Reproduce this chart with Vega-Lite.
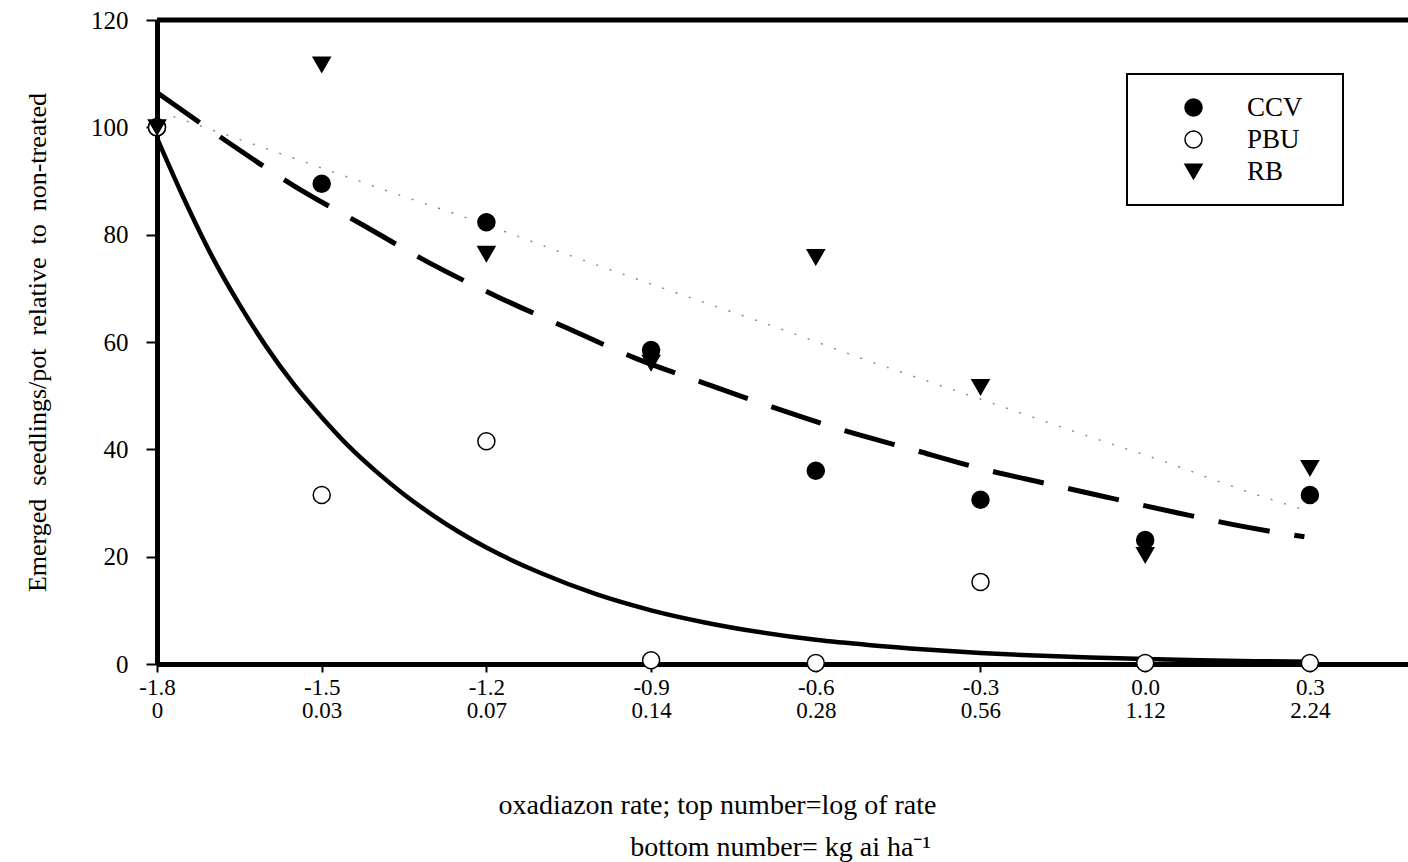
{
  "$schema": "https://vega.github.io/schema/vega-lite/v6.json",
  "width": 1251,
  "height": 644,
  "autosize": {"type": "none"},
  "padding": {"left": 157, "top": 20, "right": 0, "bottom": 198},
  "background": "white",
  "config": {
    "view": {"stroke": null},
    "font": "Liberation Serif",
    "axis": {"grid": false, "domainColor": "black", "tickColor": "black", "labelColor": "black", "titleColor": "black", "titleFontWeight": "normal", "labelFont": "Liberation Serif", "titleFont": "Liberation Serif"},
    "legend": {"strokeColor": "black", "strokeWidth": 2, "fillColor": "white"}
  },
  "datasets": {
    "points": [
      {"series": "CCV", "x": -1.8, "y": 100},
      {"series": "CCV", "x": -1.5, "y": 89.5},
      {"series": "CCV", "x": -1.2, "y": 82.3},
      {"series": "CCV", "x": -0.9, "y": 58.5},
      {"series": "CCV", "x": -0.6, "y": 36.0},
      {"series": "CCV", "x": -0.3, "y": 30.6},
      {"series": "CCV", "x": 0.0, "y": 23.1},
      {"series": "CCV", "x": 0.3, "y": 31.5},
      {"series": "PBU", "x": -1.8, "y": 100},
      {"series": "PBU", "x": -1.5, "y": 31.5},
      {"series": "PBU", "x": -1.2, "y": 41.5},
      {"series": "PBU", "x": -0.9, "y": 0.7},
      {"series": "PBU", "x": -0.6, "y": 0.2},
      {"series": "PBU", "x": -0.3, "y": 15.3},
      {"series": "PBU", "x": 0.0, "y": 0.2},
      {"series": "PBU", "x": 0.3, "y": 0.2},
      {"series": "RB", "x": -1.8, "y": 100},
      {"series": "RB", "x": -1.5, "y": 111.7},
      {"series": "RB", "x": -1.2, "y": 76.4},
      {"series": "RB", "x": -0.9, "y": 56.1},
      {"series": "RB", "x": -0.6, "y": 75.8},
      {"series": "RB", "x": -0.3, "y": 51.6},
      {"series": "RB", "x": 0.0, "y": 20.3},
      {"series": "RB", "x": 0.3, "y": 36.5}
    ],
    "curves": [
      {"fit": "RB", "x": -1.77, "y": 102.0},
      {"fit": "RB", "x": -1.516, "y": 93.0},
      {"fit": "RB", "x": -1.376, "y": 88.0},
      {"fit": "RB", "x": -1.235, "y": 83.1},
      {"fit": "RB", "x": -1.039, "y": 75.8},
      {"fit": "RB", "x": -0.844, "y": 68.8},
      {"fit": "RB", "x": -0.674, "y": 62.8},
      {"fit": "RB", "x": -0.507, "y": 56.6},
      {"fit": "RB", "x": -0.31, "y": 49.7},
      {"fit": "RB", "x": -0.082, "y": 41.7},
      {"fit": "RB", "x": 0.021, "y": 38.2},
      {"fit": "RB", "x": 0.204, "y": 31.5},
      {"fit": "RB", "x": 0.291, "y": 28.7},
      {"fit": "CCV", "x": -1.8, "y": 106.5},
      {"fit": "CCV", "x": -1.676, "y": 97.6},
      {"fit": "CCV", "x": -1.552, "y": 89.2},
      {"fit": "CCV", "x": -1.425, "y": 81.8},
      {"fit": "CCV", "x": -1.303, "y": 74.7},
      {"fit": "CCV", "x": -1.179, "y": 68.4},
      {"fit": "CCV", "x": -1.053, "y": 62.6},
      {"fit": "CCV", "x": -0.929, "y": 57.0},
      {"fit": "CCV", "x": -0.805, "y": 52.4},
      {"fit": "CCV", "x": -0.68, "y": 47.9},
      {"fit": "CCV", "x": -0.538, "y": 43.2},
      {"fit": "CCV", "x": -0.432, "y": 40.2},
      {"fit": "CCV", "x": -0.31, "y": 36.7},
      {"fit": "CCV", "x": -0.184, "y": 33.7},
      {"fit": "CCV", "x": -0.062, "y": 30.9},
      {"fit": "CCV", "x": 0.062, "y": 28.1},
      {"fit": "CCV", "x": 0.185, "y": 25.5},
      {"fit": "CCV", "x": 0.29, "y": 23.7},
      {"fit": "PBU", "x": -1.8, "y": 98},
      {"fit": "PBU", "x": -1.75, "y": 86.5},
      {"fit": "PBU", "x": -1.7, "y": 76},
      {"fit": "PBU", "x": -1.65, "y": 67},
      {"fit": "PBU", "x": -1.6, "y": 59},
      {"fit": "PBU", "x": -1.55, "y": 52},
      {"fit": "PBU", "x": -1.5, "y": 46},
      {"fit": "PBU", "x": -1.45, "y": 40.5},
      {"fit": "PBU", "x": -1.4, "y": 35.8},
      {"fit": "PBU", "x": -1.35, "y": 31.6},
      {"fit": "PBU", "x": -1.3, "y": 27.9},
      {"fit": "PBU", "x": -1.25, "y": 24.6},
      {"fit": "PBU", "x": -1.2, "y": 21.7},
      {"fit": "PBU", "x": -1.1, "y": 16.9},
      {"fit": "PBU", "x": -1.0, "y": 13.0},
      {"fit": "PBU", "x": -0.9, "y": 10.0},
      {"fit": "PBU", "x": -0.8, "y": 7.7},
      {"fit": "PBU", "x": -0.7, "y": 5.9},
      {"fit": "PBU", "x": -0.6, "y": 4.5},
      {"fit": "PBU", "x": -0.5, "y": 3.5},
      {"fit": "PBU", "x": -0.4, "y": 2.7},
      {"fit": "PBU", "x": -0.3, "y": 2.05},
      {"fit": "PBU", "x": -0.2, "y": 1.58},
      {"fit": "PBU", "x": -0.1, "y": 1.2},
      {"fit": "PBU", "x": 0.0, "y": 0.92},
      {"fit": "PBU", "x": 0.1, "y": 0.7},
      {"fit": "PBU", "x": 0.2, "y": 0.53},
      {"fit": "PBU", "x": 0.3, "y": 0.4}
    ]
  },
  "layer": [
    {
      "data": {"name": "curves"},
      "transform": [{"filter": "datum.fit === 'RB'"}],
      "mark": {"type": "line", "color": "#8c8c8c", "strokeWidth": 1.5, "strokeDash": [2, 12], "interpolate": "monotone"},
      "encoding": {
        "x": {
          "field": "x", "type": "quantitative",
          "scale": {"domain": [-1.8, 0.4787], "nice": false, "zero": false},
          "axis": {
            "values": [-1.8, -1.5, -1.2, -0.9, -0.6, -0.3, 0, 0.3],
            "labelExpr": "[datum.value < -1.65 ? '-1.8' : datum.value < -1.35 ? '-1.5' : datum.value < -1.05 ? '-1.2' : datum.value < -0.75 ? '-0.9' : datum.value < -0.45 ? '-0.6' : datum.value < -0.15 ? '-0.3' : datum.value < 0.15 ? '0.0' : '0.3', datum.value < -1.65 ? '0' : datum.value < -1.35 ? '0.03' : datum.value < -1.05 ? '0.07' : datum.value < -0.75 ? '0.14' : datum.value < -0.45 ? '0.28' : datum.value < -0.15 ? '0.56' : datum.value < 0.15 ? '1.12' : '2.24']",
            "labelFontSize": 23,
            "labelLineHeight": 23,
            "labelPadding": 4,
            "labelOverlap": false,
            "labelFlush": false,
            "labelBound": false,
            "domainWidth": 5,
            "tickWidth": 2,
            "tickSize": 8,
            "title": ["oxadiazon rate; top number=log of rate", "\u2800\u2800\u2800\u2800\u2800\u2800bottom number= kg ai ha\u207b\u00b9"],
            "titleFontSize": 28,
            "titleLineHeight": 42,
            "titleAnchor": "start",
            "titleAlign": "center",
            "titleX": 560,
            "titleY": 127,
            "titleBaseline": "top"
          }
        },
        "y": {
          "field": "y", "type": "quantitative",
          "scale": {"domain": [0, 120], "nice": false, "zero": true},
          "axis": {
            "values": [0, 20, 40, 60, 80, 100, 120],
            "labelFontSize": 25,
            "labelPadding": 18,
            "domainWidth": 5,
            "tickWidth": 2,
            "tickSize": 11,
            "title": "Emerged\u00a0 seedlings/pot\u00a0 relative\u00a0 to\u00a0 non-treated",
            "titleFontSize": 26,
            "titlePadding": 40
          }
        }
      }
    },
    {
      "data": {"name": "curves"},
      "transform": [{"filter": "datum.fit === 'CCV'"}],
      "mark": {"type": "line", "color": "black", "strokeWidth": 5, "strokeDash": [52, 25], "interpolate": "monotone"},
      "encoding": {
        "x": {"field": "x", "type": "quantitative"},
        "y": {"field": "y", "type": "quantitative"}
      }
    },
    {
      "data": {"name": "curves"},
      "transform": [{"filter": "datum.fit === 'PBU'"}],
      "mark": {"type": "line", "color": "black", "strokeWidth": 4.5, "interpolate": "monotone"},
      "encoding": {
        "x": {"field": "x", "type": "quantitative"},
        "y": {"field": "y", "type": "quantitative"}
      }
    },
    {
      "data": {"values": [{}]},
      "mark": {"type": "rule", "color": "black", "strokeWidth": 5},
      "encoding": {"y": {"datum": 120}}
    },
    {
      "data": {"name": "points"},
      "mark": {"type": "point", "strokeWidth": 1.5, "size": 290, "opacity": 1},
      "encoding": {
        "x": {"field": "x", "type": "quantitative"},
        "y": {"field": "y", "type": "quantitative"},
        "shape": {
          "field": "series", "type": "nominal",
          "scale": {"domain": ["CCV", "PBU", "RB"], "range": ["circle", "circle", "triangle-down"]},
          "legend": {"title": null, "orient": "none", "legendX": 970, "legendY": 54, "labelFontSize": 27, "labelFont": "Liberation Serif", "labelColor": "black", "padding": 20, "symbolSize": 290, "symbolStrokeWidth": 1.5, "symbolOffset": 33, "labelOffset": 40, "rowPadding": 4, "labelExpr": "datum.label + '\u2800'"}
        },
        "fill": {
          "field": "series", "type": "nominal",
          "scale": {"domain": ["CCV", "PBU", "RB"], "range": ["black", "white", "black"]},
          "legend": {"title": null, "orient": "none", "legendX": 970, "legendY": 54, "labelFontSize": 27, "labelFont": "Liberation Serif", "labelColor": "black", "padding": 20, "symbolSize": 290, "symbolStrokeWidth": 1.5, "symbolOffset": 33, "labelOffset": 40, "rowPadding": 4, "labelExpr": "datum.label + '\u2800'"}
        },
        "stroke": {
          "field": "series", "type": "nominal",
          "scale": {"domain": ["CCV", "PBU", "RB"], "range": ["black", "black", "black"]},
          "legend": {"title": null, "orient": "none", "legendX": 970, "legendY": 54, "labelFontSize": 27, "labelFont": "Liberation Serif", "labelColor": "black", "padding": 20, "symbolSize": 290, "symbolStrokeWidth": 1.5, "symbolOffset": 33, "labelOffset": 40, "rowPadding": 4, "labelExpr": "datum.label + '\u2800'"}
        }
      }
    }
  ]
}
